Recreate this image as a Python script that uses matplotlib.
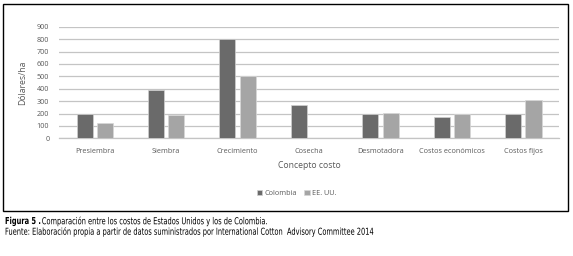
import numpy as np
import matplotlib.pyplot as plt
from matplotlib.patches import Rectangle
from matplotlib.patheffects import AbstractPathEffect
from matplotlib.transforms import Affine2D

# datos
conceptos = ['Presiembra', 'Siembra', 'Crecimiento', 'Cosecha',
             'Desmotadora', 'Costos económicos', 'Costos fijos']
colombia = [200, 390, 800, 270, 200, 175, 200]
eeuu = [120, 190, 500, 0, 205, 200, 305]
yticks = [0, 100, 200, 300, 400, 500, 600, 700, 800, 900]

plt.rcParams['font.family'] = ['Open Sans', 'DejaVu Sans']
txt = '#595959'


class Squeeze(AbstractPathEffect):
    # estrecha el texto en horizontal (letra muy condensada del pie)
    def __init__(self, sx, x0):
        super().__init__()
        self.sx, self.x0 = sx, x0

    def draw_path(self, renderer, gc, tpath, affine, rgbFace=None):
        a = affine + Affine2D().translate(-self.x0, 0).scale(self.sx, 1).translate(self.x0, 0)
        renderer.draw_path(gc, tpath, a, rgbFace)


fig = plt.figure(figsize=(5.73, 2.56), dpi=100)

# marco alrededor del grafico
fig.patches.append(Rectangle((3 / 573, 1 - 211 / 256), 565 / 573, 207 / 256,
                             transform=fig.transFigure, fill=False,
                             edgecolor='black', linewidth=1.0))

ax = fig.add_axes([59 / 573, 1 - 138.3 / 256, 500 / 573, 111.6 / 256])

x = np.arange(len(conceptos))
w = 0.225
ax.bar(x - w / 2 - 0.03, colombia, width=w, color='#6a6a6a',
       edgecolor='#d0d0d0', linewidth=0.5, label='Colombia', zorder=3)
ax.bar(x + w / 2 + 0.03, eeuu, width=w, color='#a5a5a5',
       edgecolor='#d8d8d8', linewidth=0.5, label='EE. UU.', zorder=3)

ax.set_xlim(-0.5, len(conceptos) - 0.5)
ax.set_ylim(0, 900)
ax.set_yticks(yticks)
ax.set_xticks(x)
ax.set_xticklabels(conceptos)
ax.grid(axis='y', color='#c4c4c4', linewidth=0.9, zorder=0)
for s in ['top', 'right', 'left']:
    ax.spines[s].set_visible(False)
ax.spines['bottom'].set_color('#c4c4c4')
ax.spines['bottom'].set_linewidth(0.9)
ax.tick_params(axis='both', length=0, labelsize=5.2, colors=txt)
ax.tick_params(axis='y', pad=7)
ax.tick_params(axis='x', pad=7)

ax.set_xlabel('Concepto costo', fontsize=6.2, color=txt, labelpad=4)
ax.set_ylabel('Dólares/ha', fontsize=6.2, color=txt, labelpad=7)

leg = ax.legend(loc='center', bbox_to_anchor=(0.475, -0.495), ncol=2,
                frameon=False, fontsize=5.2, handlelength=0.8,
                handleheight=0.8, handletextpad=0.3, columnspacing=1.0)
for t in leg.get_texts():
    t.set_color(txt)

# pie de figura
x0 = 5
cap = dict(fontsize=6.9, va='center', family=['DejaVu Sans'])
t1 = fig.text(x0 / 573, 1 - 221 / 256, 'Figura 5 .', fontweight='bold', **cap)
t3 = fig.text(x0 / 573, 1 - 231.5 / 256,
              'Fuente: Elaboración propia a partir de datos suministrados por '
              'International Cotton  Advisory Committee 2014', **cap)
fig.canvas.draw()
bb = t1.get_window_extent()
t2 = fig.text((bb.x1 + 1) / 573, 1 - 221 / 256,
              'Comparación entre los costos de Estados Unidos y los de Colombia.',
              **cap)
sx = 371 / t3.get_window_extent().width
for t in (t1, t2, t3):
    t.set_path_effects([Squeeze(sx, x0)])

fig.savefig('out.png', dpi=100, facecolor='white')
